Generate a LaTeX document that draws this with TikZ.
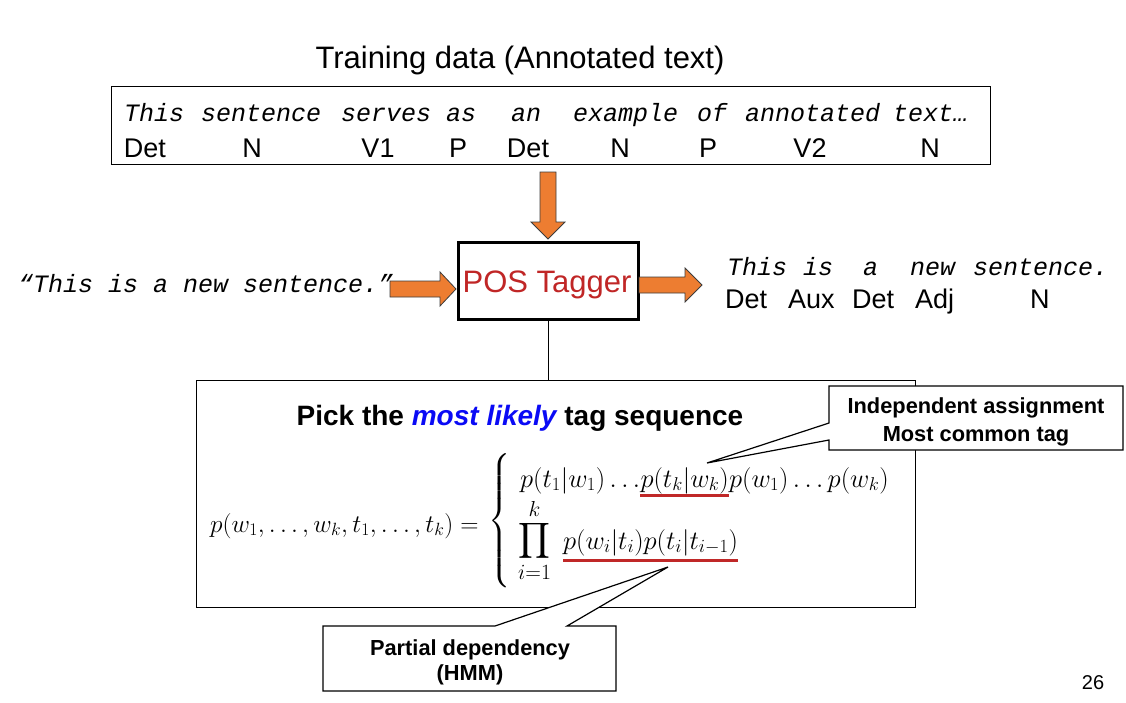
\RequirePackage{fix-cm}
\documentclass[tikz,border=0pt]{standalone}
\usepackage{exscale}
\usepackage{fontspec}
\setmainfont{Liberation Sans}
\newfontfamily\monofam{Liberation Mono}
\usetikzlibrary{calc}
\definecolor{arrorange}{RGB}{237,125,49}
\definecolor{arredge}{RGB}{60,60,60}
\definecolor{posred}{RGB}{192,38,38}
\definecolor{likelyblue}{RGB}{10,10,245}
\definecolor{ulred}{RGB}{192,40,40}
\begin{document}
\begin{tikzpicture}[x=1pt,y=-1pt,
  mw/.style={anchor=base west, inner sep=0pt, font=\monofam\itshape\fontsize{25}{30}\selectfont},
  tg/.style={anchor=base, inner sep=0pt, font=\fontsize{27}{32}\selectfont},
  tgw/.style={anchor=base west, inner sep=0pt, font=\fontsize{27}{32}\selectfont},
  mth/.style={anchor=base west, inner sep=0pt, font=\fontsize{26.5}{32}\selectfont},
  blockarrow/.style={fill=arrorange, draw=arredge, line width=0.8pt, line join=miter},
  callout/.style={fill=white, draw=black, line width=1.2pt, line join=miter},
  calltext/.style={anchor=base, inner sep=0pt, font=\bfseries\fontsize{21.8}{25}\selectfont},
  redline/.style={draw=ulred, line width=3pt}
]
\useasboundingbox (0,0) rectangle (1126,702);

% title
\node[anchor=base, inner sep=0pt, font=\fontsize{31}{36}\selectfont] (title) at (520,68) {Training data (Annotated text)};

% training box
\node[draw, line width=1.2pt, minimum width=879pt, minimum height=78pt, anchor=north west, inner sep=0pt] (train) at (111,86) {};
\foreach \x/\w in {124/This, 201/sentence, 341/serves, 446/as, 511/an, 573/example, 697/of, 745/annotated, 893/text…}
  \node[mw] (tw\x) at (\x,121) {\w};
\foreach \x/\t in {145/Det,252/N,378/V1,458/P,528/Det,620/N,708/P,810/V2,930/N}
  \node[tg] (tt\x) at (\x,157) {\t};

% POS tagger box
\node[draw, line width=3pt, minimum width=180pt, minimum height=77pt, anchor=north west, inner sep=0pt] (pos) at (457,241) {};
\node[anchor=base, inner sep=0pt, text=posred, font=\fontsize{31}{36}\selectfont] (posl) at (547,292) {POS Tagger};

% block arrows
\draw[blockarrow] (540,172) -- (556,172) -- (556,222) -- (565,222) -- (548,239) -- (531,222) -- (540,222) -- cycle;
\draw[blockarrow] (390,281) -- (440,281) -- (440,272) -- (456,289) -- (440,306) -- (440,297) -- (390,297) -- cycle;
\draw[blockarrow] (639,277) -- (685,277) -- (685,268) -- (702,285) -- (685,302) -- (685,293) -- (639,293) -- cycle;

% input sentence
\node[mw] (inp) at (18,292) {“This is a new sentence.”};

% output sentence
\foreach \x/\w in {727/This, 803/is, 863/a, 910/new, 973/sentence.}
  \node[mw] (ow\x) at (\x,275) {\w};
\foreach \x/\t in {725/Det, 788/Aux, 852/Det, 915/Adj, 1030/N}
  \node[tgw] (ot\x) at (\x,308) {\t};

% bottom box
\node[draw, line width=1.3pt, minimum width=719pt, minimum height=227pt, anchor=north west, inner sep=0pt] (box) at (196,380) {};
\draw[line width=1pt] (pos.south) -- (pos.south |- box.north);

\node[anchor=base, inner sep=0pt, font=\bfseries\fontsize{28}{32}\selectfont] (pick) at (520,425)
  {Pick the \textcolor{likelyblue}{\itshape most likely} tag sequence};

% formula
\node[anchor=base west, inner sep=0pt, font=\fontsize{25.3}{30}\selectfont] (lhs) at (210,532) {$p(w_1,\ldots,w_k,t_1,\ldots,t_k)=$};
\node[anchor=west, inner sep=0pt, font=\fontsize{24}{28}\selectfont] (brace) at (488,521) {$\left\{\vrule height 61pt depth 61pt width 0pt\right.$};
\node[mth] (l1a) at (520,487) {$p(t_1|w_1)\ldots$};
\node[mth] (ul1) at (l1a.base east) {$p(t_k|w_k)$};
\node[mth] (l1c) at (ul1.base east) {$p(w_1)\ldots p(w_k)$};
\node[anchor=base west, inner sep=0pt, font=\fontsize{31}{36}\selectfont] (prod) at (518,549) {$\displaystyle\prod_{i=1}^{k}$};
\node[mth] (ul2) at (563,549) {$p(w_i|t_i)p(t_i|t_{i-1})$};
\draw[redline] ([yshift=-2pt]ul1.south west) -- ([yshift=-2pt]ul1.south east);
\draw[redline] ([yshift=-5pt]ul2.south west) -- ([yshift=-5pt]ul2.south east);

% callouts
\coordinate (tipA) at (707,463);
\coordinate (tipB) at (668,567);
\draw[callout] (829,386) -- (1123,386) -- (1123,450) -- (829,450) -- (829,440) -- (tipA) -- (829,423) -- cycle;
\node[calltext] (ca1) at (976,413) {Independent assignment};
\node[calltext] (ca2) at (976,441) {Most common tag};
\draw[callout] (323,626) -- (495,626) -- (tipB) -- (567,626) -- (616,626) -- (616,691) -- (323,691) -- cycle;
\node[calltext] (cb1) at (470,655) {Partial dependency};
\node[calltext] (cb2) at (470,680) {(HMM)};

\node[anchor=base, inner sep=0pt, font=\fontsize{20}{24}\selectfont] (pg) at (1093,689) {26};
\end{tikzpicture}
\end{document}
